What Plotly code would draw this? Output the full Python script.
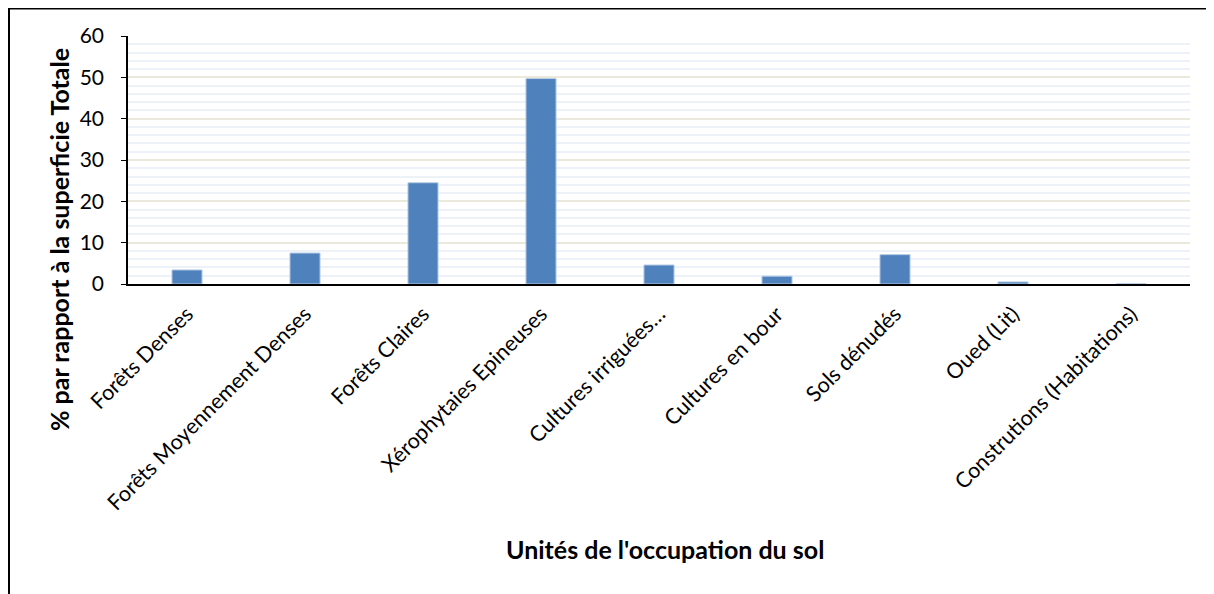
import plotly.graph_objects as go

categories = [
    "Forêts Denses",
    "Forêts Moyennement Denses",
    "Forêts Claires",
    "Xérophytaies Epineuses",
    "Cultures irriguées…",
    "Cultures en bour",
    "Sols dénudés",
    "Oued (Lit)",
    "Construtions (Habitations)",
]
values = [3.4, 7.5, 24.5, 49.7, 4.6, 1.9, 7.1, 0.5, 0.05]
y_ticks = [0, 10, 20, 30, 40, 50, 60]
x_title = "Unités de l'occupation du sol"
y_title = "% par rapport à la superficie Totale"

FONT = "Lato"
W, H = 1206, 586          # page body adds an 8px offset
ml, mt = 120, 28
pw, ph = 1062, 248
mr, mb = W - ml - pw, H - mt - ph

fig = go.Figure()
fig.add_trace(go.Bar(
    x=categories, y=values,
    marker=dict(color="#4f81bd", line=dict(color="#b9cde5", width=1)),
    width=0.255,
))

fig.update_layout(
    width=W, height=H,
    margin=dict(l=ml, r=mr, t=mt, b=mb, autoexpand=False),
    paper_bgcolor="white", plot_bgcolor="white",
    showlegend=False,
    font=dict(family=FONT, color="black", size=20),
    xaxis=dict(
        tickangle=-45,
        tickfont=dict(size=21.5, family=FONT, color="black"),
        ticklabelstandoff=7,
        showline=True, linecolor="black", linewidth=2,
        ticks="", showgrid=False,
    ),
    yaxis=dict(
        range=[0, 60], tickvals=y_ticks,
        tickfont=dict(size=21, family=FONT, color="black"),
        ticklabelstandoff=13,
        showline=True, linecolor="black", linewidth=1.5,
        ticks="outside", ticklen=5, tickcolor="black",
        gridcolor="#ebe9dc", gridwidth=1.5,
        minor=dict(dtick=2, showgrid=True, gridcolor="#edf2f9", gridwidth=1.5),
        zeroline=False,
    ),
)

fig.add_annotation(text="<b>" + x_title + "</b>", xref="paper", yref="paper",
                   x=(657 - ml) / pw, y=-(541 - (mt + ph)) / ph,
                   xanchor="center", yanchor="middle", showarrow=False,
                   font=dict(size=25, family=FONT, color="black"))
fig.add_annotation(text="<b>" + y_title + "</b>", xref="paper", yref="paper",
                   x=(51 - ml) / pw, y=1 - (232 - mt) / ph, textangle=-90,
                   xanchor="center", yanchor="middle", showarrow=False,
                   font=dict(size=25, family=FONT, color="black"))

# outer chart frame (cut at right and bottom like the reference)
fig.add_shape(type="rect", xref="paper", yref="paper",
              x0=(1 - ml) / pw, x1=(W + 20 - ml) / pw,
              y0=-(mb + 20) / ph, y1=1 + (mt - 0.5) / ph,
              line=dict(color="black", width=2), layer="below")

fig.write_html("out.html")
